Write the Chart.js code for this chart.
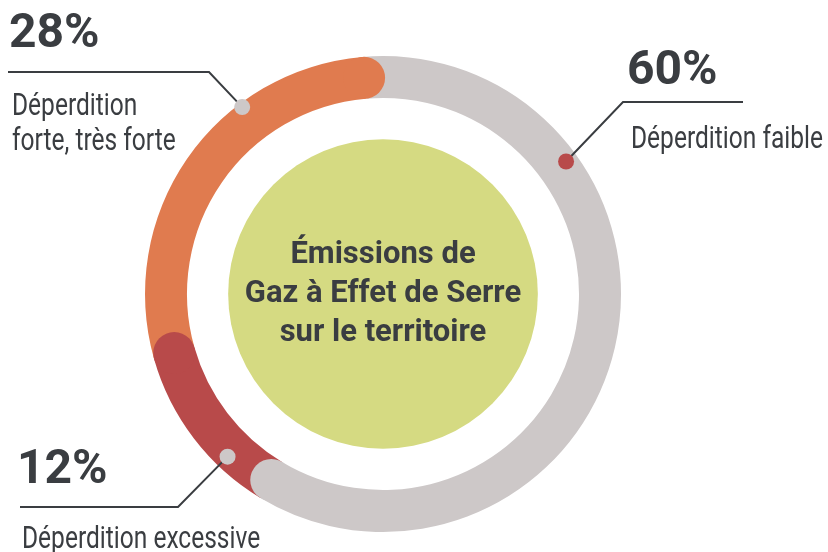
<!DOCTYPE html>
<html><head><meta charset="utf-8">
<script src="https://cdn.jsdelivr.net/npm/chart.js@4/dist/chart.umd.min.js"></script>
<style>html,body{margin:0;padding:0;background:#fff}#wrap{width:828px;height:552px;position:relative}canvas{display:block}</style>
</head><body><div id="wrap"><canvas id="c" width="828" height="552"></canvas></div>
<script>
// ---- data ----
const categories = ['Déperdition faible', 'Déperdition excessive', 'Déperdition forte, très forte'];
const values = [60, 12, 28];
const percentLabels = ['60%', '12%', '28%'];
const labelLines = [['Déperdition faible'], ['Déperdition excessive'], ['Déperdition', 'forte, très forte']];
const centerLines = ['Émissions de', 'Gaz à Effet de Serre', 'sur le territoire'];

// ---- styles ----
const colors = ['#cdc8c8', '#b84a4a', '#e07b4f'];
const dotColors = ['#b84a4a', '#cdc8c8', '#cdc8c8'];
const textColor = '#3a3d41';

// annotation layout (leader lines / text placement)
const labelLayout = [
  { dotAngle: 54.1, dotR: 226, path: [[623, 102], [743, 102]], pct: [627, 84], text: [631, 148], lh: 35 },
  { dotAngle: 223.7, dotR: 225, path: [[178, 507], [20, 507]], pct: [17, 483], text: [22, 548], lh: 35 },
  { dotAngle: 323.0, dotR: 234, path: [[209, 72], [8, 72]], pct: [9, 47], text: [12, 115], lh: 35 }
];

const decor = {
  id: 'decor',
  beforeDatasetsDraw(chart) {
    const ctx = chart.ctx;
    const a = chart.getDatasetMeta(0).data[0];
    ctx.save();
    ctx.fillStyle = '#d5da82';
    ctx.beginPath();
    ctx.arc(a.x, a.y, a.innerRadius * 0.79, 0, Math.PI * 2);
    ctx.fill();
    ctx.restore();
  },
  afterDatasetsDraw(chart) {
    const ctx = chart.ctx;
    const meta = chart.getDatasetMeta(0);
    ctx.save();
    meta.data.forEach((a, i) => {
      const mid = (a.innerRadius + a.outerRadius) / 2;
      const half = (a.outerRadius - a.innerRadius) / 2;
      ctx.fillStyle = colors[i];
      ctx.beginPath();
      ctx.arc(a.x + mid * Math.cos(a.endAngle), a.y + mid * Math.sin(a.endAngle), half, 0, Math.PI * 2);
      ctx.fill();
    });
    const a0 = meta.data[0];
    const cx = a0.x, cy = a0.y;
    ctx.fillStyle = textColor;
    ctx.textAlign = 'center';
    ctx.textBaseline = 'alphabetic';
    ctx.font = '700 31px Roboto, sans-serif';
    centerLines.forEach((t, k) => ctx.fillText(t, cx, cy - 31 + k * 39));
    // condensed label font: horizontally scaled Roboto
    ctx.font = '31px Roboto, sans-serif';
    const sx = 192 / ctx.measureText('Déperdition faible').width;
    labelLayout.forEach((L, i) => {
      const th = (L.dotAngle - 90) * Math.PI / 180;
      const dx = cx + L.dotR * Math.cos(th), dy = cy + L.dotR * Math.sin(th);
      ctx.strokeStyle = textColor;
      ctx.lineWidth = 2;
      ctx.beginPath();
      ctx.moveTo(dx, dy);
      L.path.forEach(p => ctx.lineTo(p[0], p[1]));
      ctx.stroke();
      ctx.fillStyle = dotColors[i];
      ctx.beginPath();
      ctx.arc(dx, dy, 8, 0, Math.PI * 2);
      ctx.fill();
      ctx.fillStyle = textColor;
      ctx.textAlign = 'left';
      ctx.font = '700 48px Roboto, sans-serif';
      ctx.fillText(percentLabels[i], L.pct[0], L.pct[1]);
      ctx.font = '31px Roboto, sans-serif';
      labelLines[i].forEach((t, k) => {
        ctx.save();
        ctx.translate(L.text[0], L.text[1] + k * L.lh);
        ctx.scale(sx, 1);
        ctx.fillText(t, 0, 0);
        ctx.restore();
      });
    });
    ctx.restore();
  }
};

new Chart(document.getElementById('c'), {
  type: 'doughnut',
  data: {
    labels: categories,
    datasets: [{ data: values, backgroundColor: colors, borderWidth: 0, hoverOffset: 0 }]
  },
  options: {
    responsive: false,
    animation: false,
    events: [],
    rotation: -5,
    cutout: 196,
    layout: { padding: { left: 145, top: 56, right: 207, bottom: 20 } },
    plugins: { legend: { display: false }, tooltip: { enabled: false } }
  },
  plugins: [decor]
});
</script>
</body></html>
